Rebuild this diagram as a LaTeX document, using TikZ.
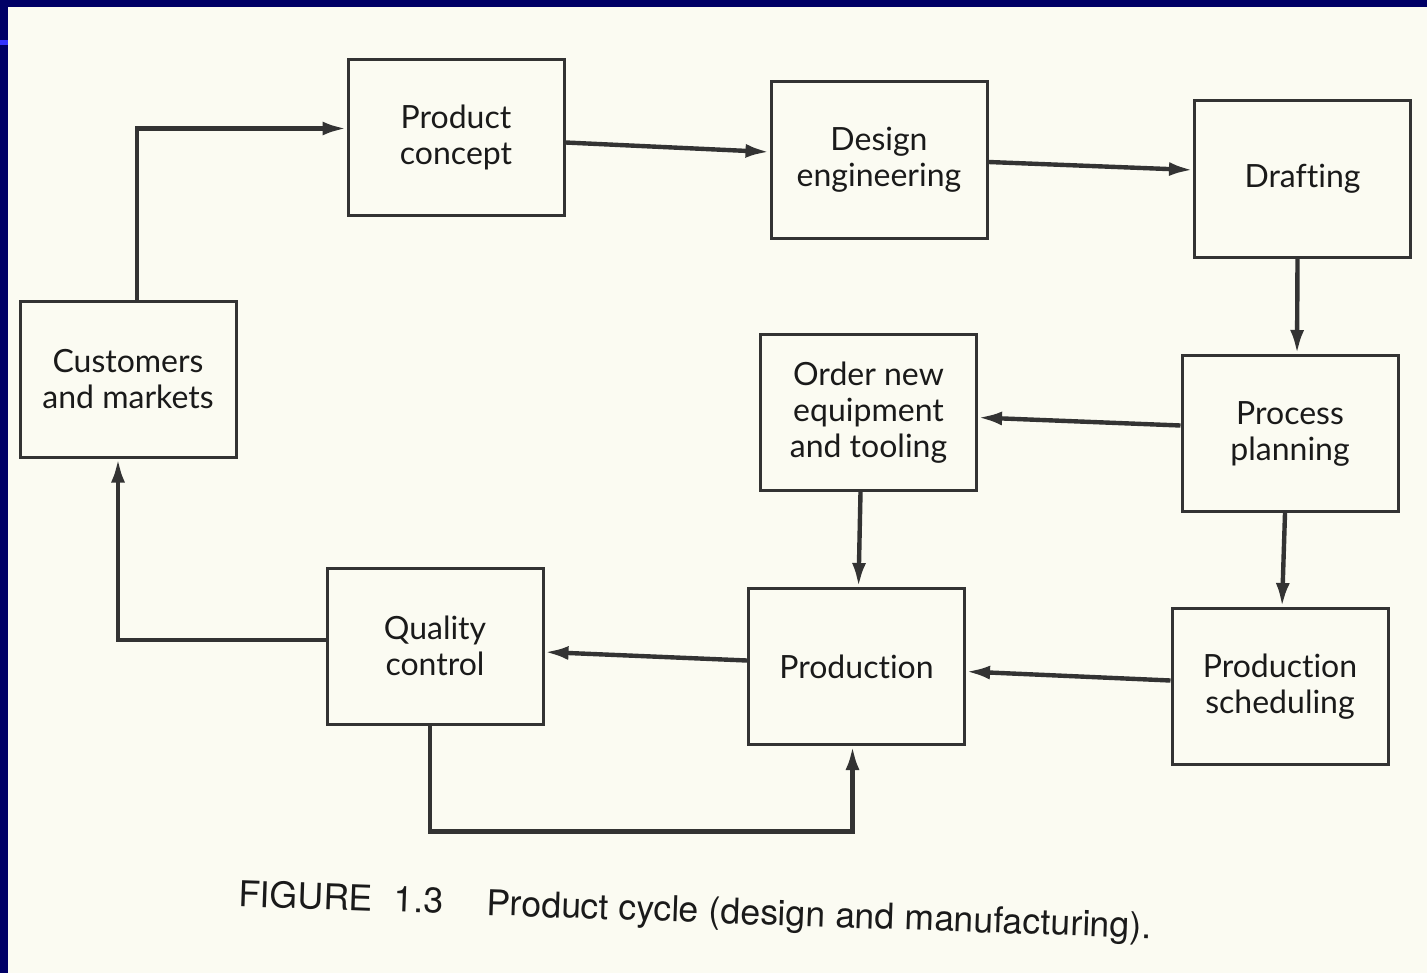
\documentclass[tikz,border=0pt]{standalone}
\usepackage{fontspec}
\setmainfont{Lato}[Ligatures=NoCommon]
\newfontfamily\capfont{TeX Gyre Heros}
\usetikzlibrary{arrows.meta,calc}
\definecolor{paper}{HTML}{FBFBF2}
\definecolor{navy}{HTML}{000066}
\definecolor{ink}{HTML}{333333}
\definecolor{txt}{HTML}{1A1A1A}
\tikzset{
  box/.style={draw=ink, line width=1.5pt, fill=paper, minimum width=108pt, minimum height=78pt,
    align=center, text=txt, font=\fontsize{16}{18}\selectfont, inner sep=0pt},
  conn/.style={draw=ink, line width=2.2pt, -{Latex[length=12pt,width=7pt]}},
  plain/.style={draw=ink, line width=2.2pt}
}
\begin{document}
\begin{tikzpicture}[x=0.5pt,y=-0.5pt]
\useasboundingbox (0,0) rectangle (1427,973);
\fill[paper] (0,0) rectangle (1427,973);
\fill[navy] (0,0) rectangle (1427,7);
\fill[navy] (0,0) rectangle (8,973);
\fill[blue!80!white] (0,40) rectangle (8,45);

\node[box] (pc) at (456,137.5) {Product\\concept};
\node[box] (de) at (879,160) {Design\\engineering};
\node[box] (dr) at (1302.5,179) {Drafting};
\node[box] (pp) at (1290,433.5) {Process\\planning};
\node[box] (on) at (868.5,412.5) {Order new\\equipment\\and tooling};
\node[box] (ps) at (1280,686.5) {Production\\scheduling};
\node[box] (pr) at (856.5,666.5) {Production};
\node[box] (qc) at (435,646) {Quality\\control};
\node[box] (cm) at (128,379) {Customers\\and markets};

\draw[conn] ($(cm.north)+(9,0)$) |- ($(pc.west)+(0,-9)$);
\draw[conn] ($(pc.east)+(0,5)$) -- ($(de.west)+(0,-8)$);
\draw[conn] ($(de.east)+(0,2)$) -- ($(dr.west)+(0,-9)$);
\draw[conn] ($(dr.south)+(-5,0)$) -- ($(pp.north)+(7,0)$);
\draw[conn] ($(pp.west)+(0,-8)$) -- ($(on.east)+(0,5)$);
\draw[conn] ($(pp.south)+(-5,0)$) -- ($(ps.north)+(2,0)$);
\draw[conn] ($(on.south)+(-8,0)$) -- ($(pr.north)+(2,0)$);
\draw[conn] ($(ps.west)+(0,-6)$) -- ($(pr.east)+(0,5)$);
\draw[conn] ($(pr.west)+(0,-6)$) -- ($(qc.east)+(0,6)$);
\draw[conn] ($(qc.west)+(0,-6)$) -| ($(cm.south)+(-10,0)$);
\draw[conn] ($(qc.south)+(-5,0)$) -- ++(0,106) -| ($(pr.south)+(-4,0)$);

\node[rotate=-2, text=txt, font=\capfont\fontsize{17.8}{20}\selectfont, inner sep=0pt] (cap) at (695,913)
  {FIGURE\hspace{0.6em}1.3\hspace{1.2em}Product cycle (design and manufacturing).};
\end{tikzpicture}
\end{document}
